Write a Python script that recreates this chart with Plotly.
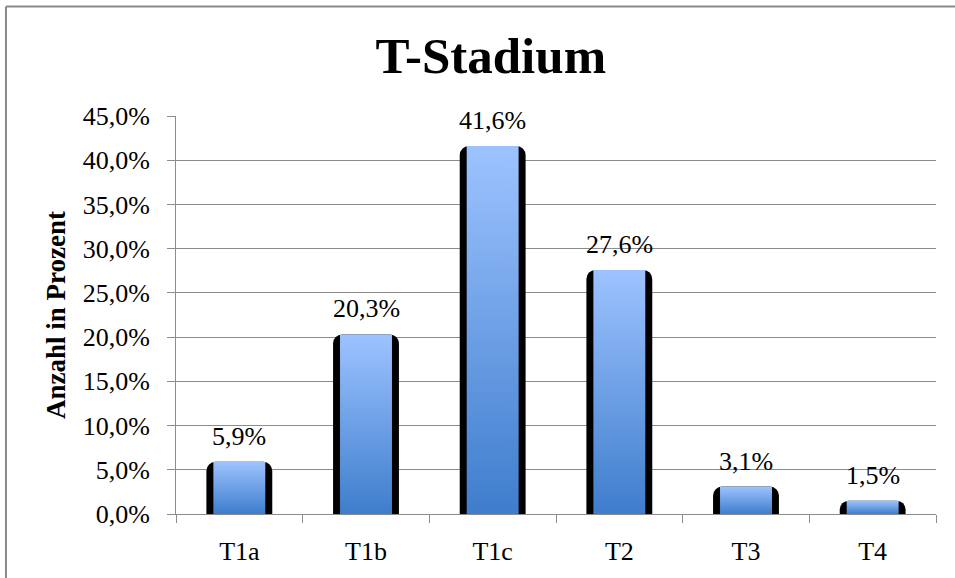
import plotly.graph_objects as go

# T-stage distribution (percent of cases)
categories = ["T1a", "T1b", "T1c", "T2", "T3", "T4"]
percent = [5.9, 20.3, 41.6, 27.6, 3.1, 1.5]
y_ticks = [0, 5, 10, 15, 20, 25, 30, 35, 40, 45]


def pct_de(v):
    """German-style percent label, e.g. 41,6%"""
    return f"{v:.1f}".replace(".", ",") + "%"


positions = list(range(len(categories)))
GRID = "#8c8c8c"
SERIF = "Liberation Serif"

fig = go.Figure()

# dark body behind each bar (forms the black side edges with rounded top)
fig.add_trace(go.Bar(
    x=positions, y=percent, width=0.52,
    marker=dict(color="#000000", line=dict(width=0), cornerradius=9),
    hoverinfo="skip", showlegend=False,
))

# blue gradient face of each bar
face_half = 0.205
for pos, val in zip(positions, percent):
    fig.add_trace(go.Scatter(
        x=[pos - face_half, pos - face_half, pos + face_half, pos + face_half, pos - face_half],
        y=[0, val, val, 0, 0],
        mode="lines", line=dict(width=0),
        fill="toself",
        fillcolor="#6a9fe6",
        fillgradient=dict(type="vertical",
                          colorscale=[[0, "#3e7dcc"], [1, "#9dc3ff"]]),
        hoverinfo="skip", showlegend=False,
    ))

# value labels above bars
for pos, val in zip(positions, percent):
    fig.add_annotation(
        x=pos, y=val, text=pct_de(val),
        showarrow=False, yanchor="bottom", yshift=9,
        font=dict(family=SERIF, size=26, color="#000000"),
    )

# y-axis title
fig.add_annotation(
    xref="paper", yref="paper", x=-0.158, y=0.5,
    text="<b>Anzahl in Prozent</b>", textangle=-90, showarrow=False,
    xanchor="center", yanchor="middle",
    font=dict(family=SERIF, size=27, color="#000000"),
)

# chart frame (top and left edges)
frame = dict(color="#8a8a8a", width=2)
fig.add_shape(type="line", xref="paper", yref="paper",
              x0=-0.2237, x1=1.05, y0=1.275, y1=1.275, line=frame)
fig.add_shape(type="line", xref="paper", yref="paper",
              x0=-0.2237, x1=-0.2237, y0=-0.2, y1=1.275, line=frame)

fig.update_layout(
    width=955, height=578,
    margin=dict(l=176, r=19, t=116, b=62),
    paper_bgcolor="#ffffff", plot_bgcolor="#ffffff",
    showlegend=False,
    title=dict(
        text="<b>T-Stadium</b>", x=0.514, xanchor="center",
        y=0.935, yanchor="top", yref="container",
        font=dict(family=SERIF, size=51, color="#000000"),
    ),
    font=dict(family=SERIF, color="#000000"),
)

fig.update_xaxes(
    range=[-0.5, len(categories) - 0.5],
    tickmode="array", tickvals=positions, ticktext=categories,
    ticks="", showgrid=False, zeroline=False,
    showline=True, linecolor=GRID, linewidth=1,
    ticklabelstandoff=14,
    tickfont=dict(family=SERIF, size=26, color="#000000"),
    minor=dict(tickmode="array",
               tickvals=[p - 0.5 for p in positions] + [positions[-1] + 0.5],
               ticks="outside", ticklen=8, tickcolor=GRID, tickwidth=1,
               showgrid=False),
)

fig.update_yaxes(
    range=[0, 45], tickmode="array", tickvals=y_ticks,
    ticktext=[pct_de(t) for t in y_ticks],
    ticks="outside", ticklen=8, tickcolor=GRID, tickwidth=1,
    showgrid=True, gridcolor=GRID, gridwidth=1,
    zeroline=False, showline=True, linecolor=GRID, linewidth=1,
    ticklabelstandoff=12,
    tickfont=dict(family=SERIF, size=26, color="#000000"),
)

fig.write_html("out.html")
